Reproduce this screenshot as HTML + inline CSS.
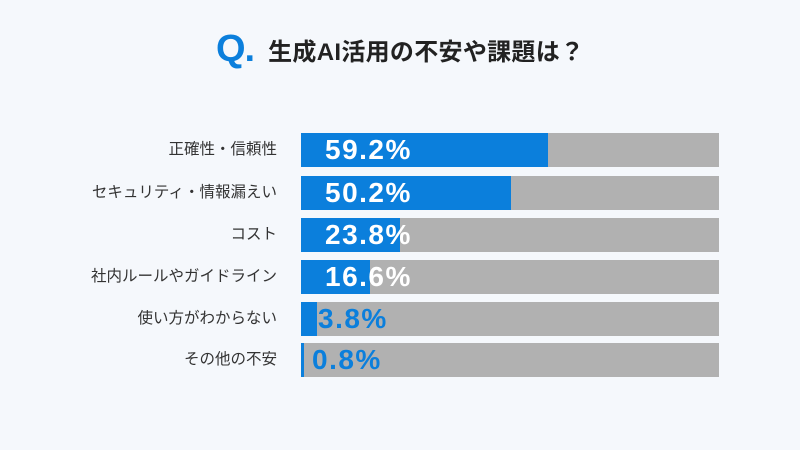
<!DOCTYPE html><html><head><meta charset="utf-8"><style>
body{margin:0;width:800px;height:450px;background:#f5f8fc;position:relative;overflow:hidden;font-family:"Liberation Sans","Noto Sans CJK JP",sans-serif}
.t{position:absolute;top:28px;left:216px;white-space:nowrap}
.q{color:#0b7fdc;font-weight:bold;font-size:38px;vertical-align:middle;letter-spacing:-1px}
.tt{color:#222;font-weight:bold;font-size:24px;vertical-align:middle;margin-left:14px;letter-spacing:0.3px}
.row{position:absolute;left:301px;width:418px;height:34px;background:#b1b1b1}
.b{position:absolute;left:0;top:0;height:100%;background:#0b7fdc}
.v{position:absolute;top:0;line-height:34px;font-weight:bold;font-size:28px;color:#fff;letter-spacing:1.5px}
.l{position:absolute;right:523px;font-size:15.5px;color:#333;line-height:34px;white-space:nowrap}
</style></head><body>
<div class="t"><span class="q">Q.</span><span class="tt">生成AI活用の不安や課題は？</span></div>
<div class="l" style="top:133px">正確性・信頼性</div>
<div class="row" style="top:133px"><div class="b" style="width:247px"></div><div class="v" style="left:24px">59.2%</div></div>
<div class="l" style="top:176px">セキュリティ・情報漏えい</div>
<div class="row" style="top:176px"><div class="b" style="width:210px"></div><div class="v" style="left:24px">50.2%</div></div>
<div class="l" style="top:218px">コスト</div>
<div class="row" style="top:218px"><div class="b" style="width:99px"></div><div class="v" style="left:24px">23.8%</div></div>
<div class="l" style="top:260px">社内ルールやガイドライン</div>
<div class="row" style="top:260px"><div class="b" style="width:69px"></div><div class="v" style="left:24px">16.6%</div></div>
<div class="l" style="top:302px">使い方がわからない</div>
<div class="row" style="top:302px"><div class="b" style="width:16px"></div><div class="v" style="left:17px;color:#0b7fdc">3.8%</div></div>
<div class="l" style="top:343px">その他の不安</div>
<div class="row" style="top:343px"><div class="b" style="width:3px"></div><div class="v" style="left:11px;color:#0b7fdc">0.8%</div></div>
</body></html>
